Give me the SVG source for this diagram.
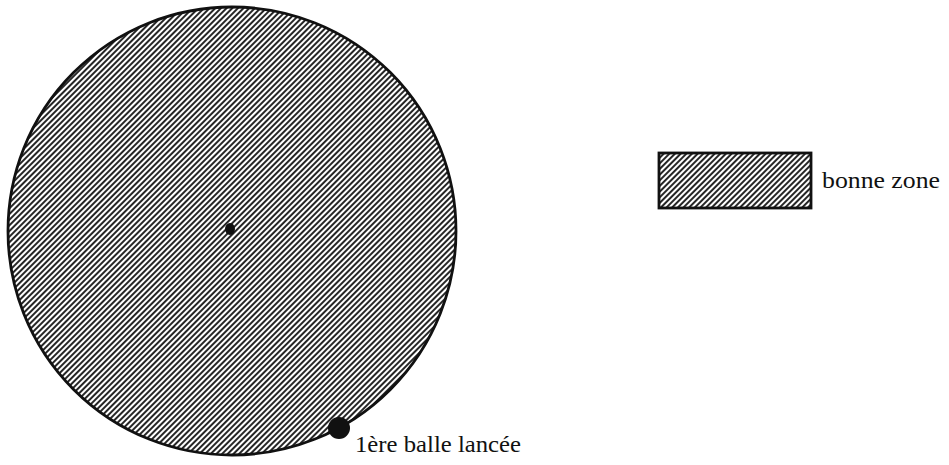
<svg xmlns="http://www.w3.org/2000/svg" width="949" height="465" viewBox="0 0 949 465">
<defs>
<pattern id="hatch" patternUnits="userSpaceOnUse" width="4" height="4" patternTransform="rotate(-45)">
<rect width="4" height="4" fill="#fff"/>
<line x1="0" y1="2" x2="4" y2="2" stroke="#1a1a1a" stroke-width="1.9"/>
</pattern>
<style>
.lbl{font-family:'Liberation Serif','DejaVu Serif','Times New Roman',serif;fill:#111;}
</style>
</defs>
<rect width="949" height="465" fill="#fff"/>
<g id="zone">
<circle cx="232" cy="231" r="224" fill="url(#hatch)" stroke="#111" stroke-width="2.8"/>
<ellipse cx="230" cy="229" rx="5" ry="6" fill="#111"/>
</g>
<g id="ball">
<circle cx="339" cy="428" r="11" fill="#111"/>
<text class="lbl" font-family="Liberation Serif, DejaVu Serif, serif" x="355" y="452" font-size="23" textLength="166" lengthAdjust="spacingAndGlyphs">1ère balle lancée</text>
</g>
<g id="legend">
<rect x="659" y="153" width="152" height="55" fill="url(#hatch)" stroke="#111" stroke-width="2.8"/>
<text class="lbl" font-family="Liberation Serif, DejaVu Serif, serif" x="822" y="188" font-size="24" textLength="118" lengthAdjust="spacingAndGlyphs">bonne zone</text>
</g>
<g id="connectors"/>
</svg>
